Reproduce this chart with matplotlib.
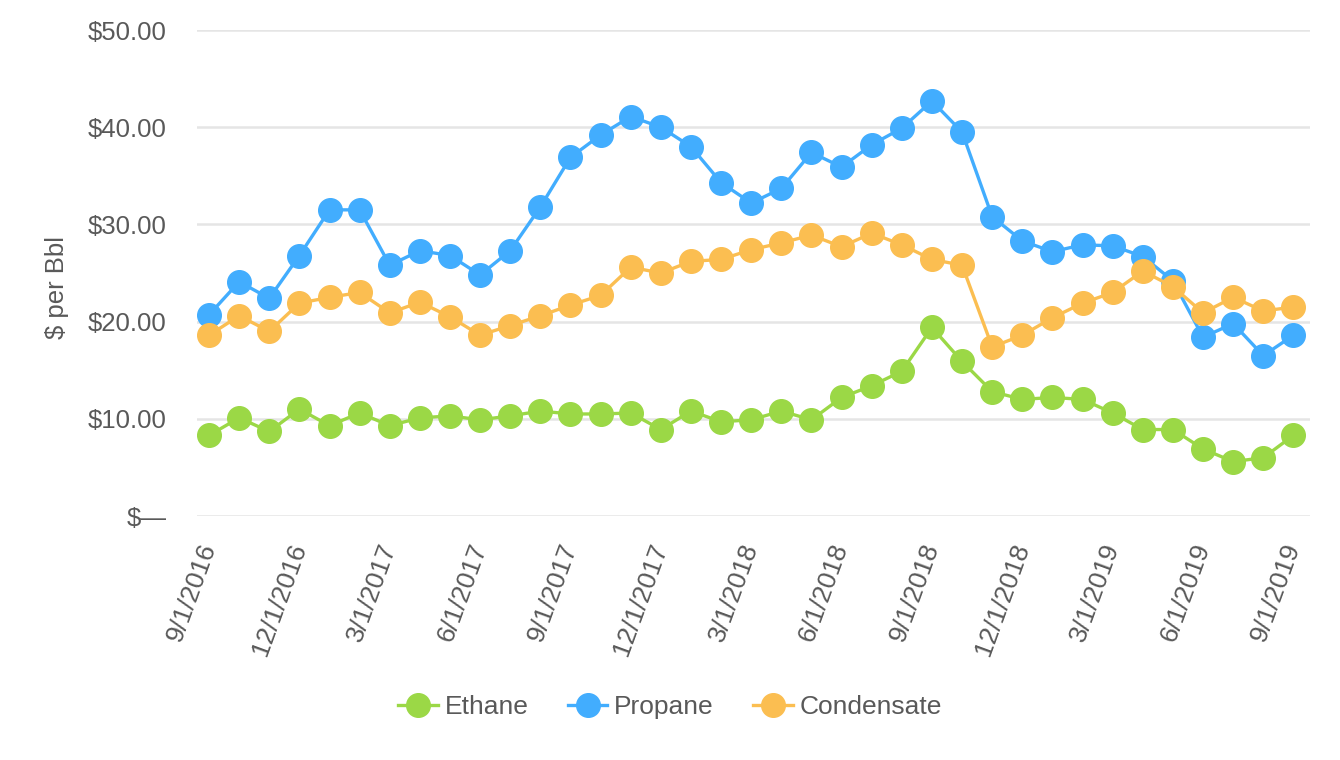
import matplotlib
matplotlib.use("Agg")
import matplotlib.pyplot as plt
from matplotlib.ticker import FuncFormatter

plt.rcParams['font.family'] = ['Liberation Sans', 'DejaVu Sans']

# -------------------- data --------------------
months = [f"{m}/1/{y}" for y, m in
          [(2016, m) for m in range(9, 13)] +
          [(2017, m) for m in range(1, 13)] +
          [(2018, m) for m in range(1, 13)] +
          [(2019, m) for m in range(1, 10)]]

ethane = [8.3, 10.1, 8.7, 11.0, 9.3, 10.6, 9.3, 10.1, 10.3, 9.9, 10.3, 10.8,
          10.5, 10.5, 10.6, 8.9, 10.8, 9.7, 9.9, 10.8, 9.9, 12.2, 13.4, 14.9,
          19.4, 15.9, 12.8, 12.0, 12.2, 12.0, 10.6, 8.9, 8.9, 6.9, 5.6, 6.0, 8.3]

propane = [20.7, 24.1, 22.4, 26.8, 31.5, 31.5, 25.8, 27.3, 26.8, 24.8, 27.3, 31.8,
           36.9, 39.2, 41.1, 40.0, 38.0, 34.3, 32.2, 33.7, 37.4, 35.9, 38.2, 39.9,
           42.7, 39.5, 30.8, 28.3, 27.2, 27.9, 27.8, 26.7, 24.2, 18.4, 19.8, 16.5, 18.6]

condensate = [18.6, 20.6, 19.0, 21.9, 22.5, 23.0, 20.9, 22.0, 20.5, 18.6, 19.6, 20.6,
              21.7, 22.7, 25.6, 25.0, 26.2, 26.4, 27.4, 28.1, 28.9, 27.7, 29.1, 27.9,
              26.4, 25.8, 17.4, 18.6, 20.4, 21.9, 23.0, 25.2, 23.6, 20.9, 22.5, 21.1, 21.5]

series = [("Ethane", ethane, "#9bd846"),
          ("Propane", propane, "#42adfe"),
          ("Condensate", condensate, "#fbbe51")]

text_color = "#595959"
fs = 18.5

# -------------------- plot --------------------
fig = plt.figure(figsize=(13.4, 7.6), dpi=100)
ax = fig.add_axes([0.147, 0.321, 0.8306, 0.6395])

x = list(range(len(months)))
for name, vals, color in series:
    ax.plot(x, vals, color=color, linewidth=2.4, marker="o", markersize=17,
            label=name, clip_on=False, zorder=3)

ax.set_xlim(-0.4, len(months) - 1 + 0.55)
ax.set_ylim(0, 50)
ax.set_yticks([0, 10, 20, 30, 40, 50])
ax.yaxis.set_major_formatter(FuncFormatter(lambda v, p: "$\u2014" if v == 0 else f"${v:.2f}"))

ax.set_xticks(x[::3])
ax.set_xticklabels(months[::3], rotation=70, ha="right", va="center",
                   rotation_mode="anchor")

ax.tick_params(axis="both", length=0, labelsize=fs, colors=text_color)
ax.tick_params(axis="x", labelsize=19, pad=20)
ax.tick_params(axis="y", pad=22)

ax.grid(axis="y", color="#e5e5e5", linewidth=1.8)
ax.set_axisbelow(True)
for s in ax.spines.values():
    s.set_visible(False)

ax.set_ylabel("$ per Bbl", fontsize=fs, color=text_color)
ax.yaxis.set_label_coords(-0.115, 0.47)

leg = fig.legend(loc="center", bbox_to_anchor=(0.5, 0.07), ncol=3, frameon=False,
                 fontsize=19, handlelength=1.5, columnspacing=1.5, handletextpad=0.25,
                 markerscale=1.0)
for t in leg.get_texts():
    t.set_color(text_color)

fig.savefig("out.png", dpi=100)
